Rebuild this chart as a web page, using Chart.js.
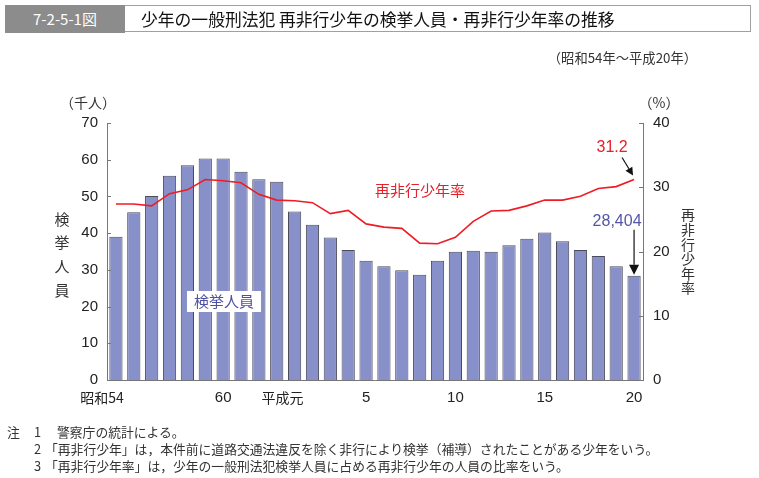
<!DOCTYPE html>
<html lang="ja">
<head>
<meta charset="UTF-8">
<title>7-2-5-1図</title>
<script src="https://cdn.jsdelivr.net/npm/chart.js"></script>
<style>
  body { margin: 0; background: #fff; font-family: "Noto Sans CJK JP", sans-serif; }
  #wrap { position: relative; width: 759px; height: 478px; overflow: hidden; }
  #c { position: absolute; left: 0; top: 0; }
  .figno { position: absolute; left: 5px; top: 5px; width: 120px; height: 28px; background: #8c8c8c;
           color: #fff; font-size: 15px; line-height: 28px; text-align: center; }
  .figtitle { position: absolute; left: 125px; top: 5px; width: 626px; height: 27px; border: 1px solid #a0a0a0;
              border-left: none; font-size: 16.8px; line-height: 27px; padding-left: 16px; box-sizing: border-box; color: #111; }
  .period { position: absolute; right: 62px; top: 48px; font-size: 13.3px; color: #333; }
  .note { position: absolute; font-size: 12.8px; color: #333; white-space: nowrap; }
</style>
</head>
<body>
<div id="wrap">
  <canvas id="c" width="759" height="478"></canvas>
  <div class="figno">7-2-5-1図</div>
  <div class="figtitle">少年の一般刑法犯 再非行少年の検挙人員・再非行少年率の推移</div>
  <div class="period">（昭和54年～平成20年）</div>
  <div class="note" style="left:7px;top:422px">注</div>
  <div class="note" style="left:34px;top:422px">1</div>
  <div class="note" style="left:57px;top:422px">警察庁の統計による。</div>
  <div class="note" style="left:34px;top:439px">2</div>
  <div class="note" style="left:45px;top:439px">「再非行少年」は，本件前に道路交通法違反を除く非行により検挙（補導）されたことがある少年をいう。</div>
  <div class="note" style="left:34px;top:456px">3</div>
  <div class="note" style="left:45px;top:456px">「再非行少年率」は，少年の一般刑法犯検挙人員に占める再非行少年の人員の比率をいう。</div>
</div>

<script>
// 昭和54年～平成20年
var years = ['昭和54', '55', '56', '57', '58', '59', '60', '61', '62', '63',
             '平成元', '2', '3', '4', '5', '6', '7', '8', '9', '10',
             '11', '12', '13', '14', '15', '16', '17', '18', '19', '20'];

// 検挙人員（千人）
var arrests = [39.0, 45.7, 50.1, 55.6, 58.5, 60.3, 60.3, 56.7, 54.7, 54.0,
               45.9, 42.3, 38.8, 35.4, 32.5, 31.0, 29.9, 28.7, 32.5, 34.9,
               35.2, 34.9, 36.7, 38.5, 40.2, 37.8, 35.4, 33.8, 31.0, 28.404];

// 再非行少年率（%）
var rate = [27.4, 27.4, 27.1, 29.0, 29.6, 31.2, 31.0, 30.7, 28.9, 28.0,
            27.9, 27.6, 25.9, 26.4, 24.3, 23.8, 23.6, 21.3, 21.2, 22.2,
            24.7, 26.3, 26.4, 27.1, 28.0, 28.0, 28.6, 29.8, 30.1, 31.2];

var shownTicks = ['昭和54', '60', '平成元', '5', '10', '15', '20'];
var leftTicks = [0, 10, 20, 30, 40, 50, 60, 70];
var rightTicks = [0, 10, 20, 30, 40];

var numFont = '15px "Liberation Sans", Arial, sans-serif';
var jpFont = '"Noto Sans CJK JP", sans-serif';

function arrow(ctx, x1, y1, x2, y2, head) {
    var a = Math.atan2(y2 - y1, x2 - x1);
    ctx.strokeStyle = '#111';
    ctx.fillStyle = '#111';
    ctx.lineWidth = 1.2;
    ctx.beginPath();
    ctx.moveTo(x1, y1);
    ctx.lineTo(x2 - Math.cos(a) * head, y2 - Math.sin(a) * head);
    ctx.stroke();
    ctx.beginPath();
    ctx.moveTo(x2, y2);
    ctx.lineTo(x2 - Math.cos(a) * head + Math.sin(a) * head * 0.5, y2 - Math.sin(a) * head - Math.cos(a) * head * 0.5);
    ctx.lineTo(x2 - Math.cos(a) * head - Math.sin(a) * head * 0.5, y2 - Math.sin(a) * head + Math.cos(a) * head * 0.5);
    ctx.closePath();
    ctx.fill();
}

var extras = {
    id: 'extras',
    afterDraw: function (chart) {
        var ctx = chart.ctx;
        var x = chart.scales.x, y = chart.scales.y, y1 = chart.scales.y1;
        ctx.save();

        // 内向きの目盛り
        ctx.strokeStyle = '#777';
        ctx.lineWidth = 1;
        leftTicks.forEach(function (v) {
            var py = Math.round(y.getPixelForValue(v)) + 0.5;
            ctx.beginPath(); ctx.moveTo(x.left, py); ctx.lineTo(x.left + 4, py); ctx.stroke();
        });
        rightTicks.forEach(function (v) {
            var py = Math.round(y1.getPixelForValue(v)) + 0.5;
            ctx.beginPath(); ctx.moveTo(x.right, py); ctx.lineTo(x.right - 4, py); ctx.stroke();
        });

        // 横軸ラベル
        ctx.fillStyle = '#222';
        ctx.textBaseline = 'middle';
        ctx.textAlign = 'center';
        years.forEach(function (lab, i) {
            if (shownTicks.indexOf(lab) < 0) return;
            var px = x.getPixelForValue(i);
            if (lab === '昭和54') px -= 14;
            if (lab === '平成元') px -= 12;
            ctx.font = /^\d+$/.test(lab) ? numFont : '14px ' + jpFont;
            ctx.fillText(lab, px, 398);
        });

        // 軸タイトル
        ctx.font = '14px ' + jpFont;
        ctx.fillStyle = '#333';
        ctx.fillText('（千人）', 88, 103);
        ctx.fillText('（%）', 659, 103);
        ctx.font = '15px ' + jpFont;
        '検挙人員'.split('').forEach(function (ch, i) {
            ctx.fillText(ch, 62, 219 + i * 23.7);
        });
        ctx.font = '14px ' + jpFont;
        '再非行少年率'.split('').forEach(function (ch, i) {
            ctx.fillText(ch, 688, 215 + i * 14.6);
        });

        // 系列名
        ctx.font = '15px ' + jpFont;
        ctx.fillStyle = '#e8202a';
        ctx.fillText('再非行少年率', 420, 190);

        ctx.fillStyle = '#fff';
        ctx.fillRect(187, 291, 74, 21);
        ctx.fillStyle = '#5050a0';
        ctx.fillText('検挙人員', 224, 301);

        // 最終年の注記
        var last = years.length - 1;
        var lx = x.getPixelForValue(last);
        var ry = y1.getPixelForValue(rate[last]);
        ctx.font = '16px "Liberation Sans", Arial, sans-serif';
        ctx.fillStyle = '#e8202a';
        ctx.fillText(rate[last].toFixed(1), lx - 22, ry - 32);
        arrow(ctx, lx - 12, ry - 22, lx - 1, ry - 4, 8);

        var by = y.getPixelForValue(arrests[last]);
        ctx.fillStyle = '#5555aa';
        ctx.fillText(Math.round(arrests[last] * 1000).toLocaleString('en-US'), lx - 17, by - 54);
        arrow(ctx, lx, by - 46, lx, by - 1, 10);

        ctx.restore();
    }
};

new Chart(document.getElementById('c').getContext('2d'), {
    type: 'bar',
    data: {
        labels: years,
        datasets: [
            {
                type: 'line',
                label: '再非行少年率',
                data: rate,
                yAxisID: 'y1',
                borderColor: '#ee1c25',
                borderWidth: 1.6,
                pointRadius: 0,
                tension: 0,
                fill: false,
                order: 0
            },
            {
                label: '検挙人員',
                data: arrests,
                yAxisID: 'y',
                backgroundColor: '#8890c9',
                borderColor: '#4a4a58',
                borderWidth: 1,
                categoryPercentage: 1,
                barPercentage: 0.74,
                order: 1
            }
        ]
    },
    options: {
        responsive: false,
        animation: false,
        layout: { padding: { top: 123, left: 0, right: 0, bottom: 0 } },
        plugins: { legend: { display: false }, tooltip: { enabled: false } },
        scales: {
            x: {
                grid: { display: false },
                border: { display: true, color: '#777', width: 1 },
                ticks: { display: false },
                afterFit: function (s) { s.height = 98; }
            },
            y: {
                position: 'left',
                min: 0, max: 70,
                grid: { display: false, drawTicks: false },
                border: { display: true, color: '#777', width: 1 },
                ticks: { stepSize: 10, padding: 9, color: '#222', font: { family: '"Liberation Sans", Arial, sans-serif', size: 15 } },
                afterFit: function (s) { s.width = 107; }
            },
            y1: {
                position: 'right',
                min: 0, max: 40,
                grid: { display: false, drawTicks: false },
                border: { display: true, color: '#777', width: 1 },
                ticks: { stepSize: 10, padding: 10, color: '#222', font: { family: '"Liberation Sans", Arial, sans-serif', size: 15 } },
                afterFit: function (s) { s.width = 116; }
            }
        }
    },
    plugins: [extras]
});
</script>
</body>
</html>
